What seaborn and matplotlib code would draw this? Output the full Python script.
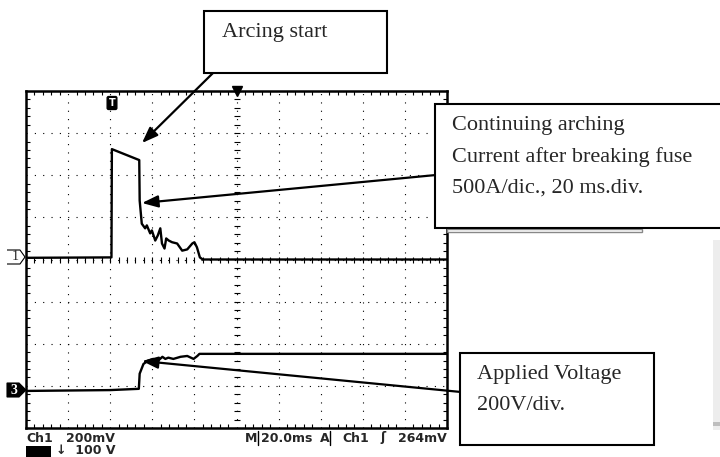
import matplotlib
matplotlib.use("Agg")
import matplotlib.pyplot as plt
import matplotlib.patches as mpatches
import seaborn as sns
import numpy as np
import pandas as pd

# scope settings
ms_per_div = 20.0
amp_per_div = 500.0     # Ch1 current probe
volt_per_div = 200.0    # Ch3
ch1_ground_div = 0.0
ch3_ground_div = -3.12

# Ch1: arc current (time ms, current A)
current_t = [0, 40.6, 40.8, 53.8, 54.0, 55.0, 56.6, 57.4, 59.0, 59.8, 61.4,
             62.6, 63.8, 64.6, 65.8, 66.6, 67.8, 69.4, 71.8, 74.2, 76.6,
             79.0, 80.0, 81.2, 82.6, 84.0, 200]
current_a = [20, 25, 1310, 1180, 700, 425, 370, 405, 310, 345, 225,
             285, 370, 190, 130, 250, 225, 205, 190, 105, 120,
             190, 205, 145, 25, 0, 0]

# Ch3: applied voltage (time ms, voltage V)
voltage_t = [0, 40, 53.6, 54.0, 55.8, 58.0, 60.4, 62.8, 64.8, 66.2, 67.6,
             70.0, 73.4, 76.6, 79.6, 81.4, 82.4, 200]
voltage_v = [0, 4, 10, 82, 128, 144, 152, 144, 162, 152, 158,
             152, 162, 166, 152, 166, 176, 176]

df_i = pd.DataFrame({"t": current_t, "div": np.array(current_a) / amp_per_div + ch1_ground_div})
df_v = pd.DataFrame({"t": voltage_t, "div": np.array(voltage_v) / volt_per_div + ch3_ground_div})

sns.set_style("white")
plt.rcParams["font.family"] = ["DejaVu Sans"]

W, H = 720, 457
fig = plt.figure(figsize=(7.2, 4.57), dpi=100)
ax = fig.add_axes([26 / W, (H - 428) / H, 421 / W, 337 / H])


def px(x, y):
    return (x / W, 1 - y / H)


sns.lineplot(data=df_i, x="t", y="div", ax=ax, color="black", lw=1.7,
             estimator=None, sort=False)
sns.lineplot(data=df_v, x="t", y="div", ax=ax, color="black", lw=1.7,
             estimator=None, sort=False)

ax.set_xlim(0, 10 * ms_per_div)
ax.set_ylim(-4, 4)
ax.set_xticks(np.arange(0, 10 * ms_per_div + 1, ms_per_div))
ax.set_yticks(np.arange(-4, 5, 1))
ax.set_xticks(np.arange(0, 10 * ms_per_div + 1, ms_per_div / 5), minor=True)
ax.set_yticks(np.arange(-4, 4.01, 0.2), minor=True)
ax.set_xticklabels([])
ax.set_yticklabels([])
ax.set_xlabel("")
ax.set_ylabel("")
ax.grid(True, which="major", color="black", linestyle=(0, (1, 6.5)), lw=0.8)
ax.tick_params(which="major", length=0)
ax.tick_params(which="minor", direction="in", length=3, width=0.8,
               top=True, right=True, bottom=True, left=True, color="black")
for s in ax.spines.values():
    s.set_visible(True)
    s.set_linewidth(1.8)
    s.set_color("black")

# centre graticule ticks
cy = np.arange(-4, 4.01, 0.2)
cx = np.arange(0, 200.1, 4)
ax.plot(np.full_like(cy, 100), cy, ls="none", marker="_", ms=5, mew=0.8, color="black")
ax.plot(cx, np.zeros_like(cx), ls="none", marker="|", ms=5, mew=0.8, color="black")

# trigger markers
ax.plot([0.5], [1.0], marker="v", ms=7, color="black", transform=ax.transAxes, clip_on=False)
fig.text(*px(112, 103), "T", color="white", fontsize=7, fontweight="bold",
         ha="center", va="center",
         bbox=dict(boxstyle="round,pad=0.15", fc="black", ec="black"))

# channel markers
fig.add_artist(mpatches.Polygon([px(7, 250), px(20, 250), px(25, 257), px(20, 264), px(7, 264)],
                                closed=False, fill=False, lw=0.8, ec="black",
                                transform=fig.transFigure))
fig.text(*px(15, 257), "1", fontsize=10, family="Liberation Serif", ha="center", va="center")
fig.add_artist(mpatches.Polygon([px(7, 383), px(19, 383), px(26, 390), px(19, 397), px(7, 397)],
                                closed=True, fc="black", ec="black", lw=0.8,
                                transform=fig.transFigure))
fig.text(*px(14, 390), "3", fontsize=10, family="Liberation Serif", color="white",
         fontweight="bold", ha="center", va="center")

# scope readout
ro = dict(fontsize=9, fontweight="bold", va="center")
fig.text(*px(26, 438), "Ch1", **ro)
fig.text(*px(66, 438), "200mV", **ro)
fig.text(*px(245, 438), "M", **ro)
fig.text(*px(261, 438), "20.0ms", **ro)
fig.text(*px(320, 438), "A", **ro)
fig.text(*px(342, 438), "Ch1", **ro)
fig.text(*px(380, 438), "ʃ", **ro)
fig.text(*px(447, 438), "264mV", ha="right", **ro)
for x0 in (258, 330):
    fig.add_artist(plt.Line2D([x0 / W, x0 / W], [1 - 431 / H, 1 - 445 / H], color="black",
                              lw=1, transform=fig.transFigure))
fig.add_artist(mpatches.Rectangle(px(26, 457), 25 / W, 11 / H, fc="black", ec="none",
                                  transform=fig.transFigure))
fig.text(*px(56, 450), "↓  100 V", **ro)

# arrows
arrow = dict(arrowstyle="-|>,head_length=0.8,head_width=0.3", lw=1.6, color="black",
             mutation_scale=12, shrinkA=0, shrinkB=0)
ax.annotate("", xy=px(142, 143), xytext=px(213, 73), xycoords="figure fraction",
            textcoords="figure fraction", arrowprops=arrow, annotation_clip=False)
ax.annotate("", xy=px(142, 203), xytext=px(436, 175), xycoords="figure fraction",
            textcoords="figure fraction", arrowprops=arrow, annotation_clip=False)
ax.annotate("", xy=px(142, 361), xytext=px(461, 392), xycoords="figure fraction",
            textcoords="figure fraction", arrowprops=arrow, annotation_clip=False)

# label boxes
fig.add_artist(mpatches.Rectangle(px(447, 232), 195 / W, 3 / H, fc="white", ec="#888888",
                                  lw=1, transform=fig.transFigure))
boxes = [((204, 11), (387, 73)), ((435, 104), (730, 228)), ((460, 353), (654, 445))]
for (x0, y0), (x1, y1) in boxes:
    fig.add_artist(mpatches.Rectangle(px(x0, y1), (x1 - x0) / W, (y1 - y0) / H,
                                      fc="white", ec="black", lw=1.5, zorder=5,
                                      transform=fig.transFigure))

lab = dict(fontsize=16, family="Liberation Serif", va="baseline", zorder=6)
fig.text(*px(222, 37), "Arcing start", **lab)
fig.text(*px(452, 130), "Continuing arching", **lab)
fig.text(*px(452, 162), "Current after breaking fuse", **lab)
fig.text(*px(452, 193), "500A/dic., 20 ms.div.", **lab)
fig.text(*px(477, 379), "Applied Voltage", **lab)
fig.text(*px(477, 410), "200V/div.", **lab)

# faint scan artefact at right edge
fig.add_artist(mpatches.Rectangle(px(713, 430), 7 / W, 190 / H, fc="#ededed", ec="none",
                                  transform=fig.transFigure))
fig.add_artist(mpatches.Rectangle(px(713, 426), 7 / W, 4 / H, fc="#bdbdbd", ec="none",
                                  transform=fig.transFigure))

fig.savefig("out.png", dpi=100)
